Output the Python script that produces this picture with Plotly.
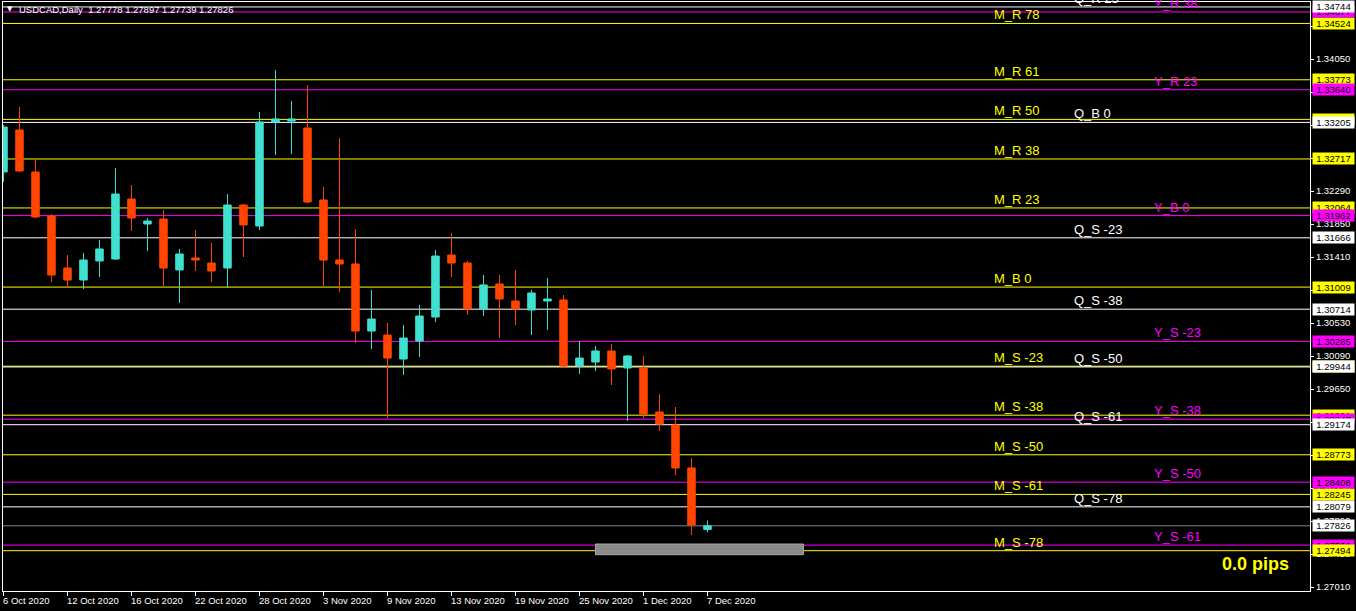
import plotly.graph_objects as go

# ---------------- data ----------------
bar_dates = ["2020-10-06", "2020-10-07", "2020-10-08", "2020-10-09",
             "2020-10-12", "2020-10-13", "2020-10-14", "2020-10-15", "2020-10-16",
             "2020-10-19", "2020-10-20", "2020-10-21", "2020-10-22", "2020-10-23",
             "2020-10-26", "2020-10-27", "2020-10-28", "2020-10-29", "2020-10-30",
             "2020-11-02", "2020-11-03", "2020-11-04", "2020-11-05", "2020-11-06",
             "2020-11-09", "2020-11-10", "2020-11-11", "2020-11-12", "2020-11-13",
             "2020-11-16", "2020-11-17", "2020-11-18", "2020-11-19", "2020-11-20",
             "2020-11-23", "2020-11-24", "2020-11-25", "2020-11-26", "2020-11-27",
             "2020-11-30", "2020-12-01", "2020-12-02", "2020-12-03", "2020-12-04",
             "2020-12-07"]
opens = [1.32543, 1.33103, 1.32543, 1.31957,
         1.31263, 1.31103, 1.31357, 1.31383, 1.32183,
         1.31850, 1.31917, 1.31237, 1.31397, 1.31330,
         1.31263, 1.32103, 1.31823, 1.33210, 1.33223,
         1.33130, 1.32170, 1.31370, 1.31317, 1.30423,
         1.30370, 1.30050, 1.30290, 1.30610, 1.31437,
         1.31330, 1.30717, 1.31050, 1.30823, 1.30703,
         1.30823, 1.30837, 1.29957, 1.30010, 1.30157,
         1.29930, 1.29930, 1.29343, 1.29170, 1.28597,
         1.27778]
highs = [1.33170, 1.33410, 1.32717, 1.31983,
         1.31437, 1.31463, 1.31637, 1.32597, 1.32370,
         1.31930, 1.32037, 1.31517, 1.31770, 1.31597,
         1.32250, 1.32117, 1.33343, 1.33903, 1.33490,
         1.33703, 1.32343, 1.32997, 1.31783, 1.30970,
         1.30530, 1.30503, 1.30770, 1.31503, 1.31730,
         1.31357, 1.31170, 1.31170, 1.31237, 1.30970,
         1.31130, 1.30903, 1.30290, 1.30223, 1.30250,
         1.30103, 1.30090, 1.29583, 1.29410, 1.28730,
         1.27897]
lows = [1.32410, 1.32543, 1.31930, 1.31077,
        1.30997, 1.30983, 1.31143, 1.31370, 1.31757,
        1.31490, 1.31023, 1.30797, 1.31223, 1.31077,
        1.30997, 1.31410, 1.31770, 1.32770, 1.32783,
        1.32130, 1.31023, 1.30943, 1.30263, 1.30183,
        1.29263, 1.29837, 1.30077, 1.30543, 1.31143,
        1.30637, 1.30623, 1.30330, 1.30503, 1.30370,
        1.30437, 1.29930, 1.29850, 1.29890, 1.29703,
        1.29223, 1.29263, 1.29090, 1.28503, 1.27703,
        1.27739]
closes = [1.33143, 1.32557, 1.31943, 1.31170,
          1.31103, 1.31370, 1.31517, 1.32250, 1.31930,
          1.31890, 1.31263, 1.31450, 1.31370, 1.31223,
          1.32103, 1.31837, 1.33210, 1.33250, 1.33250,
          1.32143, 1.31370, 1.31317, 1.30423, 1.30583,
          1.30063, 1.30330, 1.30623, 1.31423, 1.31330,
          1.30717, 1.31037, 1.30850, 1.30717, 1.30930,
          1.30850, 1.29957, 1.30063, 1.30157, 1.29917,
          1.30090, 1.29317, 1.29183, 1.28597, 1.27837,
          1.27826]

x_tick_labels = ["6 Oct 2020", "12 Oct 2020", "16 Oct 2020", "22 Oct 2020",
                 "28 Oct 2020", "3 Nov 2020", "9 Nov 2020", "13 Nov 2020",
                 "19 Nov 2020", "25 Nov 2020", "1 Dec 2020", "7 Dec 2020"]
y_tick_values = [1.27010, 1.27450, 1.27890, 1.28330, 1.28770, 1.29210,
                 1.29650, 1.30090, 1.30530, 1.30970, 1.31410, 1.31850,
                 1.32290, 1.32730, 1.33170, 1.33610, 1.34050, 1.34490]

m_levels = [1.34524, 1.33773, 1.33245, 1.32717, 1.32064, 1.31009,
            1.29954, 1.29301, 1.28773, 1.28245, 1.27494]
m_names = ["M_R 78", "M_R 61", "M_R 50", "M_R 38", "M_R 23", "M_B 0",
           "M_S -23", "M_S -38", "M_S -50", "M_S -61", "M_S -78"]
y_levels = [1.34677, 1.33640, 1.31962, 1.30285, 1.29247, 1.28408, 1.27569]
y_names = ["Y_R 38", "Y_R 23", "Y_B 0", "Y_S -23", "Y_S -38", "Y_S -50", "Y_S -61"]
q_levels = [1.34744, 1.33205, 1.31666, 1.30714, 1.29944, 1.29174, 1.28079]
q_names = ["Q_R 23", "Q_B 0", "Q_S -23", "Q_S -38", "Q_S -50", "Q_S -61", "Q_S -78"]
last_price = 1.27826
title_text = "USDCAD,Daily  1.27778 1.27897 1.27739 1.27826"
pips_text = "0.0 pips"
pips_box_bars = [37, 50]
pips_box_prices = [1.27441, 1.27583]

# ---------------- styling ----------------
CYAN = "#40E0D0"
ORANGE = "#FF4500"
YEL = "#FFFF00"
MAG = "#FF00FF"
WHT = "#FFFFFF"
GRAY = "#778899"
FONT = "Liberation Sans, Arial, sans-serif"

W, H = 1356, 611
ML, MR, MT, MB = 3, 46, 2, 20
plot_w = W - ML - MR
bar_px = 16.0
x_range = [-0.03, -0.03 + plot_w / bar_px]
y_range = [1.269567, 1.348100]

idx = list(range(len(opens)))

fig = go.Figure()
fig.add_trace(go.Candlestick(
    x=idx, open=opens, high=highs, low=lows, close=closes,
    increasing=dict(line=dict(color=CYAN, width=1), fillcolor=CYAN),
    decreasing=dict(line=dict(color=ORANGE, width=1), fillcolor=ORANGE),
    whiskerwidth=0, hoverinfo="skip", showlegend=False,
))

shapes = []
annotations = []


def px_to_paper(px):
    return (px - ML) / plot_w


# level lines
for lv in m_levels:
    shapes.append(dict(type="line", xref="paper", x0=0, x1=1, yref="y", y0=lv, y1=lv,
                       line=dict(color=YEL, width=1), layer="below"))
for lv in y_levels:
    shapes.append(dict(type="line", xref="paper", x0=0, x1=1, yref="y", y0=lv, y1=lv,
                       line=dict(color=MAG, width=1), layer="below"))
for lv in q_levels:
    shapes.append(dict(type="line", xref="paper", x0=0, x1=1, yref="y", y0=lv, y1=lv,
                       line=dict(color=WHT, width=1), layer="below"))
shapes.append(dict(type="line", xref="paper", x0=0, x1=1, yref="y", y0=last_price, y1=last_price,
                   line=dict(color=GRAY, width=1), layer="below"))

# pips box
shapes.append(dict(type="rect", xref="x", yref="y",
                   x0=pips_box_bars[0], x1=pips_box_bars[1],
                   y0=pips_box_prices[0], y1=pips_box_prices[1],
                   fillcolor="#8a8a8a", line=dict(color="#a8a8a8", width=1), layer="below"))

# level text labels
def level_text(levels, names, color, px):
    for lv, nm in zip(levels, names):
        annotations.append(dict(xref="paper", x=px_to_paper(px), yref="y", y=lv,
                                xanchor="left", yanchor="bottom", showarrow=False,
                                text=nm, font=dict(family=FONT, size=13, color=color),
                                borderpad=0, yshift=0))


level_text(m_levels, m_names, YEL, 993)
level_text(q_levels, q_names, WHT, 1073)
level_text(y_levels, y_names, MAG, 1153)


# right-side price boxes
def price_box(lv, bg):
    annotations.append(dict(xref="paper", x=1, xshift=2, yref="y", y=lv,
                            xanchor="left", yanchor="middle", showarrow=False,
                            text="%.5f" % lv, bgcolor=bg, width=39, height=9,
                            borderpad=1, align="center",
                            font=dict(family=FONT, size=9.5, color="#000000")))


for lv in m_levels[:-1]:
    price_box(lv, YEL)
for lv in y_levels:
    price_box(lv, MAG)
price_box(m_levels[-1], YEL)
for lv in q_levels:
    price_box(lv, WHT)
price_box(last_price, WHT)

# x-axis date labels (left aligned at tick)
tick_idx = idx[::4]
for k, lab in zip(tick_idx, x_tick_labels):
    annotations.append(dict(xref="x", x=k, yref="paper", y=0, yshift=-3,
                            xanchor="left", yanchor="top", showarrow=False,
                            text=lab, xshift=-1, borderpad=0,
                            font=dict(family=FONT, size=9.5, color=WHT)))

# title
annotations.append(dict(xref="paper", x=0, xshift=3, yref="paper", y=1, yshift=-2,
                        xanchor="left", yanchor="top", showarrow=False,
                        text="▼", borderpad=0,
                        font=dict(family="DejaVu Sans", size=7, color=WHT)))
annotations.append(dict(xref="paper", x=0, xshift=15, yref="paper", y=1, yshift=-1,
                        xanchor="left", yanchor="top", showarrow=False,
                        text=title_text, borderpad=0,
                        font=dict(family=FONT, size=9.5, color=WHT)))

# pips label
annotations.append(dict(xref="paper", x=px_to_paper(1291), yref="paper",
                        y=(H - MB - 564) / (H - MT - MB),
                        xanchor="right", yanchor="middle", showarrow=False,
                        text="<b>%s</b>" % pips_text,
                        font=dict(family=FONT, size=18, color=YEL)))

fig.update_layout(
    width=W, height=H, autosize=False,
    margin=dict(l=ML, r=MR, t=MT, b=MB, pad=0),
    paper_bgcolor="#000000", plot_bgcolor="#000000",
    shapes=shapes, annotations=annotations,
    showlegend=False, hovermode=False,
    boxgap=0.33,
    xaxis=dict(range=x_range, showgrid=False, zeroline=False,
               showline=True, mirror=True, linecolor=WHT, linewidth=1,
               ticks="outside", ticklen=4, tickcolor=WHT, tickwidth=1,
               tickvals=tick_idx, showticklabels=False,
               rangeslider=dict(visible=False), fixedrange=True),
    yaxis=dict(range=y_range, side="right", showgrid=False, zeroline=False,
               showline=True, mirror=True, linecolor=WHT, linewidth=1,
               ticks="outside", ticklen=3, tickcolor=WHT, tickwidth=1,
               tickvals=y_tick_values, ticktext=["%.5f" % v for v in y_tick_values],
               tickfont=dict(family=FONT, size=9.5, color=WHT), fixedrange=True),
)

fig.write_html("out.html", config={"displayModeBar": False},
               post_script="document.body.style.margin='0';document.body.style.overflow='hidden';")
